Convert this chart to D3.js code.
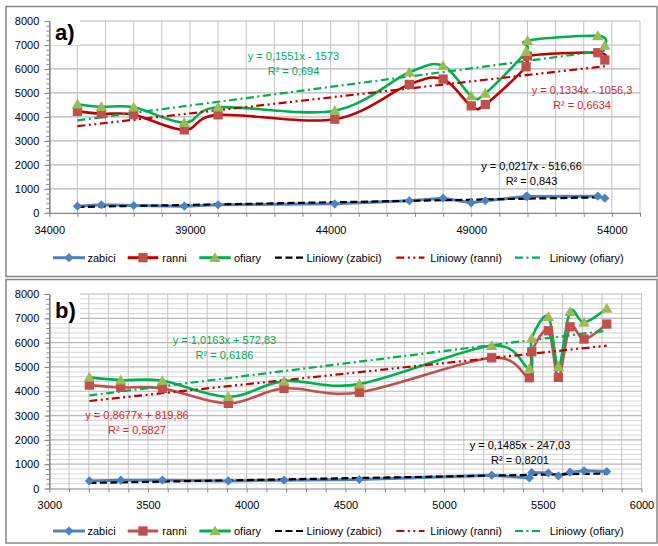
<!DOCTYPE html>
<html><head><meta charset="utf-8">
<script src="https://cdn.jsdelivr.net/npm/d3@7"></script>
<style>
body{margin:0;background:#fff;}
svg{display:block;font-family:"Liberation Sans",Arial,sans-serif;}
</style></head><body>
<svg id="chart" width="658" height="546"></svg>
<script>
// ---------- data ----------
const seriesNames = ["zabici", "ranni", "ofiary"];
const trendNames = ["Liniowy (zabici)", "Liniowy (ranni)", "Liniowy (ofiary)"];

// panel a)
const xA = [35000, 35850, 37000, 38800, 40000, 44150, 46800, 48000, 49000, 49500, 50950, 51000, 53500, 53750];
const zabiciA = [276, 335, 305, 276, 335, 376, 502, 611, 418, 502, 682, 682, 695, 611];
const ranniA = [4230, 4128, 4092, 3458, 4085, 3904, 5356, 5577, 4460, 4519, 6092, 6540, 6678, 6372];
const ofiaryA = [4530, 4420, 4400, 3760, 4400, 4260, 5860, 6135, 4870, 4980, 6720, 7180, 7380, 6980];
const slopesA = [0.0217, 0.1334, 0.1551];
const interceptsA = [-516.66, -1056.3, -1573];
const eqTextA = ["y = 0,0217x - 516,66", "y = 0,1334x - 1056,3", "y = 0,1551x - 1573"];
const r2TextA = ["R² = 0,843", "R² = 0,6634", "R² = 0,694"];
const xTickLabelsA = [34000, 39000, 44000, 49000, 54000];

// panel b)
const xB = [3203, 3362, 3573, 3907, 4189, 4571, 5241, 5432, 5444, 5528, 5579, 5638, 5709, 5824];
const zabiciB = [313, 342, 342, 313, 342, 370, 547, 436, 658, 642, 519, 671, 725, 700];
const ranniB = [4253, 4158, 4117, 3499, 4117, 3952, 5377, 4553, 5624, 6489, 4570, 6653, 6147, 6764];
const ofiaryB = [4570, 4458, 4430, 3771, 4417, 4294, 5872, 4940, 6175, 7065, 5006, 7270, 6834, 7410];
const slopesB = [0.1485, 0.8677, 1.0163];
const interceptsB = [-247.03, 819.86, 572.83];
const eqTextB = ["y = 0,1485x - 247,03", "y = 0,8677x + 819,86", "y = 1,0163x + 572,83"];
const r2TextB = ["R² = 0,8201", "R² = 0,5827", "R² = 0,6186"];
const xTickLabelsB = [3000, 3500, 4000, 4500, 5000, 5500, 6000];

const yTickLabels = [0, 1000, 2000, 3000, 4000, 5000, 6000, 7000, 8000];

// ---------- layout / style ----------
const panels = [
  {
    tag: "a)", frame: [6, 6.5, 651, 270], plot: {l: 49.3, r: 640, t: 21, b: 212.8},
    xDomain: [34000, 55000], xLabels: xTickLabelsA, xGridStep: 1000, yMinor: false,
    x: xA, ys: [zabiciA, ranniA, ofiaryA], slopes: slopesA, intercepts: interceptsA,
    eq: eqTextA, r2: r2TextA, eqPos: [[531.5, 169.5], [582, 94], [293.5, 60]],
    legendY: 257.7, ranniColor: "#C00000", tagBox: [50, 12, 30, 33], tagBase: 39.5
  },
  {
    tag: "b)", frame: [6, 279.5, 651, 263.5], plot: {l: 49.3, r: 641.5, t: 294, b: 488.5},
    xDomain: [3000, 6000], xLabels: xTickLabelsB, xGridStep: 100, yMinor: true,
    x: xB, ys: [zabiciB, ranniB, ofiaryB], slopes: slopesB, intercepts: interceptsB,
    eq: eqTextB, r2: r2TextB, eqPos: [[520, 449], [137, 419], [224.5, 344]],
    legendY: 531, ranniColor: "#C0504D", tagBox: [50, 289, 30, 34], tagBase: 317.5
  }
];
const lineColors = ["#4F81BD", null, "#00B050"];
const markerColors = ["#4F81BD", "#C0504D", "#9BBB59"];
const trendColors = ["#000000", "#C00000", "#00B050"];
const trendDash = ["7,3.5", "8,3.5,2,3.5,2,3.5", "8,3.5,2,3.5"];
const eqColors = ["#000000", "#D42A2A", "#00B050"];
const legendX = [[53, 85, 87.5], [127.7, 158.3, 162.3], [199.3, 230.7, 234], [275, 305, 306.5], [396.3, 424.5, 430.3], [515, 541.3, 549.7]];
const gridColor = "#C4C4C4";
const axisColor = "#868686";

const symbols = [
  d3.symbol().type(d3.symbolDiamond2).size(54),
  d3.symbol().type(d3.symbolSquare).size(86),
  d3.symbol().type(d3.symbolTriangle).size(56)
];

const svg = d3.select("#chart");
svg.append("rect").attr("width", 658).attr("height", 546).attr("fill", "#fff");

panels.forEach(p => {
  const g = svg.append("g");
  const [fx, fy, fw, fh] = p.frame;
  g.append("rect").attr("x", fx).attr("y", fy).attr("width", fw).attr("height", fh)
    .attr("fill", "#fff").attr("stroke", axisColor).attr("stroke-width", 1.5);

  const x = d3.scaleLinear().domain(p.xDomain).range([p.plot.l, p.plot.r]);
  const y = d3.scaleLinear().domain([0, 8000]).range([p.plot.b, p.plot.t]);

  // gridlines
  const grid = g.append("g");
  if (p.yMinor) {
    d3.range(200, 8001, 200).filter(v => v % 1000 !== 0).forEach(v => {
      grid.append("line").attr("x1", p.plot.l).attr("x2", p.plot.r)
        .attr("y1", y(v)).attr("y2", y(v)).attr("stroke", "#D6D6D6").attr("stroke-width", 1);
    });
  }
  d3.range(p.xDomain[0] + p.xGridStep, p.xDomain[1] + 1, p.xGridStep).forEach(v => {
    grid.append("line").attr("x1", x(v)).attr("x2", x(v))
      .attr("y1", p.plot.t).attr("y2", p.plot.b).attr("stroke", gridColor).attr("stroke-width", 1);
  });
  d3.range(1000, 8001, 1000).forEach(v => {
    grid.append("line").attr("x1", p.plot.l).attr("x2", p.plot.r)
      .attr("y1", y(v)).attr("y2", y(v)).attr("stroke", "#B8B8B8").attr("stroke-width", 1.2);
  });

  // tag background
  const [bx, by, bw, bh] = p.tagBox;
  g.append("rect").attr("x", bx).attr("y", by).attr("width", bw).attr("height", bh).attr("fill", "#fff");

  // axes
  const yAxis = g.append("g").attr("transform", `translate(${p.plot.l},0)`)
    .call(d3.axisLeft(y).tickValues(yTickLabels).tickSize(5).tickSizeOuter(0).tickPadding(5)
      .tickFormat(d3.format("d")));
  const yMinorAxis = g.append("g").attr("transform", `translate(${p.plot.l},0)`)
    .call(d3.axisLeft(y).tickValues(d3.range(0, 8001, 200)).tickSize(3).tickSizeOuter(0).tickFormat(""));
  const xAxis = g.append("g").attr("transform", `translate(0,${p.plot.b})`)
    .call(d3.axisBottom(x).tickValues(d3.range(p.xDomain[0], p.xDomain[1] + 1, p.xGridStep))
      .tickSize(4).tickSizeOuter(0).tickPadding(9)
      .tickFormat(v => p.xLabels.includes(v) ? String(v) : ""));
  [yAxis, yMinorAxis, xAxis].forEach(a => {
    a.selectAll("path.domain").attr("stroke", axisColor).attr("stroke-width", 1.2);
    a.selectAll(".tick line").attr("stroke", axisColor);
    a.selectAll("text").attr("fill", "#000").style("font-size", "11px")
      .style("font-family", '"Liberation Sans",Arial,sans-serif');
  });

  const colorsLine = [lineColors[0], p.ranniColor, lineColors[2]];
  const pts = p.ys.map(ys => p.x.map((xv, i) => [xv, ys[i]]));

  // series lines
  const straight = d3.line().x(d => x(d[0])).y(d => y(d[1]));
  const smooth = d3.line().x(d => x(d[0])).y(d => y(d[1])).curve(d3.curveCardinal.tension(0));
  pts.forEach((s, k) => {
    g.append("path").attr("d", (k === 0 ? straight : smooth)(s)).attr("fill", "none")
      .attr("stroke", colorsLine[k]).attr("stroke-width", k === 0 ? 3 : 2.6)
      .attr("stroke-linejoin", "round").attr("stroke-linecap", "round");
  });

  // trend lines
  const xExt = d3.extent(p.x);
  p.slopes.forEach((m, k) => {
    const b = p.intercepts[k];
    g.append("line").attr("x1", x(xExt[0])).attr("y1", y(m * xExt[0] + b))
      .attr("x2", x(xExt[1])).attr("y2", y(m * xExt[1] + b))
      .attr("stroke", trendColors[k]).attr("stroke-width", 2.2)
      .attr("stroke-dasharray", trendDash[k]);
  });

  // markers
  pts.forEach((s, k) => {
    g.selectAll(null).data(s).enter().append("path")
      .attr("d", symbols[k]())
      .attr("transform", d => `translate(${x(d[0])},${y(d[1]) + (k === 2 ? 1 : 0)})`)
      .attr("fill", markerColors[k]).attr("stroke", "none");
  });

  // equation labels
  p.eq.forEach((t, k) => {
    const [cx, cy] = p.eqPos[k];
    g.append("text").attr("x", cx).attr("y", cy).attr("text-anchor", "middle")
      .attr("fill", eqColors[k]).style("font-size", "11px").text(t);
    g.append("text").attr("x", cx).attr("y", cy + 15).attr("text-anchor", "middle")
      .attr("fill", eqColors[k]).style("font-size", "11px").text(p.r2[k]);
  });

  // tag
  g.append("text").attr("x", 55).attr("y", p.tagBase).attr("fill", "#000")
    .style("font-size", "22px").style("font-weight", "bold").text(p.tag);

  // legend
  const legNames = seriesNames.concat(trendNames);
  const ly = p.legendY;
  legNames.forEach((name, i) => {
    const [x0, x1, tx] = legendX[i];
    const lg = g.append("g");
    if (i < 3) {
      lg.append("line").attr("x1", x0).attr("x2", x1).attr("y1", ly).attr("y2", ly)
        .attr("stroke", colorsLine[i]).attr("stroke-width", 3);
      lg.append("path").attr("d", symbols[i]())
        .attr("transform", `translate(${(x0 + x1) / 2},${ly + (i === 2 ? 1 : 0)})`)
        .attr("fill", markerColors[i]);
    } else {
      const k = i - 3;
      lg.append("line").attr("x1", x0).attr("x2", x1).attr("y1", ly).attr("y2", ly)
        .attr("stroke", trendColors[k]).attr("stroke-width", 2.2)
        .attr("stroke-dasharray", trendDash[k]);
    }
    lg.append("text").attr("x", tx).attr("y", ly + 4).attr("fill", "#000")
      .style("font-size", "11px").text(name);
  });
});
</script>
</body></html>
